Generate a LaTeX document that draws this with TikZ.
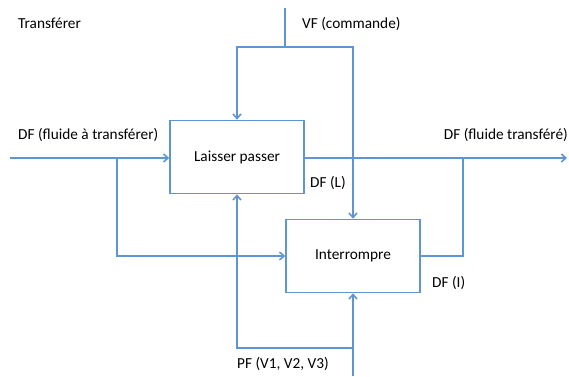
\documentclass[tikz,border=0pt]{standalone}
\usepackage{fontspec}
\setmainfont{Carlito}
\usetikzlibrary{arrows.meta}
\definecolor{flowblue}{RGB}{95,150,210}
\tikzset{func/.style = {draw=flowblue, line width=1.6pt, minimum width=134pt, minimum height=73pt, inner sep=0pt}}
\tikzset{flow/.style = {draw=flowblue, line width=1.6pt}}
\tikzset{lbl/.style = {anchor=west, inner sep=0pt}}

\begin{document}
\begin{tikzpicture}[x=1pt, y=-1pt, >={Straight Barb[length=4.5pt,width=8pt]}, font=\fontsize{15.3}{17}\selectfont]
  \useasboundingbox (0,0) rectangle (569,376);
  \node [lbl] (title) at (18,23) {Transférer};

  \node [func] (lp) at (237,157) {Laisser passer};
  \node [func] (ir) at (353,256) {Interrompre};

  \coordinate (vftop) at (285,8);
  \coordinate (vfj) at (285,47);
  \coordinate (in) at (10,158);
  \coordinate (inj) at (117,158);
  \coordinate (out) at (567,158);
  \coordinate (outj) at (463,158);
  \coordinate (pfbot) at (353,376);
  \coordinate (pfj) at (353,348);

  \node [lbl] (vf) at (302,24) {VF (commande)};
  \node [lbl] (dfin) at (18,135) {DF (fluide à transférer)};
  \node [lbl, anchor=east] (dfout) at (568,135) {DF (fluide transféré)};
  \node [lbl] (dfl) at (310,183) {DF (L)};
  \node [lbl] (dfi) at (432,283) {DF (I)};
  \node [lbl] (pf) at (237,364) {PF (V1, V2, V3)};

  % commande
  \path[flow] (vftop) -- (vfj);
  \path[flow, ->] (vfj) -| (lp.north);
  \path[flow, ->] (vfj) -| (ir.north);

  % fluide
  \path[flow, ->] (in) -- (in -| lp.west);
  \path[flow, ->] (inj) |- (ir.west);
  \path[flow, ->] (in -| lp.east) -- (out);
  \path[flow] (ir.east) -| (outj);

  % energie
  \path[flow, ->] (pfbot) -- (ir.south);
  \path[flow, ->] (pfj) -| (lp.south);
\end{tikzpicture}
\end{document}
